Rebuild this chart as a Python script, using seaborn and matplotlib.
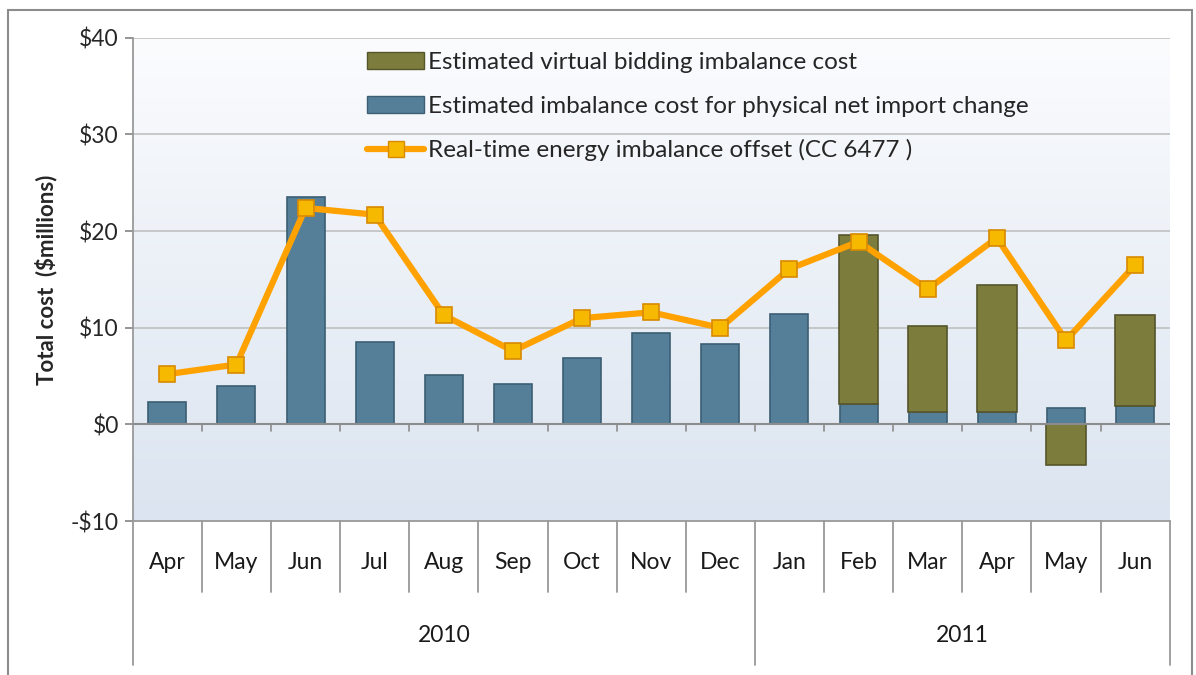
import matplotlib
matplotlib.use("Agg")
import matplotlib.pyplot as plt
from matplotlib.colors import LinearSegmentedColormap
from matplotlib.lines import Line2D
from matplotlib.patches import Patch, Rectangle
import matplotlib.transforms as mtransforms
import numpy as np
import pandas as pd
import seaborn as sns


MONTHS = ["Apr", "May", "Jun", "Jul", "Aug", "Sep", "Oct", "Nov", "Dec",
          "Jan", "Feb", "Mar", "Apr", "May", "Jun"]
YEARS = ["2010"] * 9 + ["2011"] * 6
PHYSICAL = [2.3, 4.0, 23.5, 8.5, 5.1, 4.2, 6.9, 9.5, 8.3,
            11.4, 2.1, 1.3, 1.3, 1.7, 1.9]
VIRTUAL = [0, 0, 0, 0, 0, 0, 0, 0, 0,
           0, 17.5, 8.9, 13.1, -4.2, 9.4]
OFFSET = [5.2, 6.2, 22.4, 21.7, 11.3, 7.6, 11.0, 11.6, 10.0,
          16.1, 18.9, 14.0, 19.3, 8.7, 16.5]

LBL_VIRTUAL = "Estimated virtual bidding imbalance cost"
LBL_PHYSICAL = "Estimated imbalance cost for physical net import change"
LBL_OFFSET = "Real-time energy imbalance offset (CC 6477 )"

BLUE = "#557f98"
BLUE_EDGE = "#3b5f73"
OLIVE = "#7c7c3c"
OLIVE_EDGE = "#55552a"
ORANGE = "#ffa200"
FS = 16.5

df = pd.DataFrame({
    "period": [f"{m} {y}" for m, y in zip(MONTHS, YEARS)],
    "physical": PHYSICAL,
    "virtual": VIRTUAL,
    "offset": OFFSET,
})

sns.set_theme(style="white")
plt.rcParams["font.family"] = ["Lato", "DejaVu Sans"]

fig = plt.figure(figsize=(11.96, 6.75), dpi=100)
ax = fig.add_axes([0.111, 0.228, 0.867, 0.716])

# gradient plot background
grad = LinearSegmentedColormap.from_list("bg", ["#fbfcfe", "#dbe4f0"])
ax.imshow(np.linspace(0, 1, 256)[:, None], extent=(-0.5, 14.5, -10, 40),
          aspect="auto", cmap=grad, zorder=0)

for yv in [10, 20, 30, 40]:
    ax.axhline(yv, color="#c0c0c0", lw=1.2, zorder=1)

x = np.arange(len(df))
sns.barplot(data=df, x="period", y="physical", order=df["period"], ax=ax,
            color=BLUE, saturation=1, width=0.55, edgecolor=BLUE_EDGE,
            linewidth=1.2, zorder=3)

virt = df["virtual"].to_numpy()
base = np.where(virt > 0, df["physical"].to_numpy(), 0.0)
mask = virt != 0
ax.bar(x[mask], virt[mask], bottom=base[mask], width=0.57, color=OLIVE,
       edgecolor=OLIVE_EDGE, linewidth=1.2, zorder=3)

sns.lineplot(x=x, y=df["offset"], ax=ax, color=ORANGE, lw=4.5, marker="s",
             markersize=11.5, markerfacecolor="#f7b800", markeredgecolor="#d88a00",
             markeredgewidth=1.2, zorder=5)

ax.set_xlim(-0.5, 14.5)
ax.set_ylim(-10, 40)
ax.set_yticks([-10, 0, 10, 20, 30, 40])
ax.set_yticklabels([r"-\$10", r"\$0", r"\$10", r"\$20", r"\$30", r"\$40"],
                   fontsize=FS)
ax.tick_params(axis="y", length=6, color="#888888", left=True, pad=4)
ax.set_xticks([])
ax.set_xlabel("")
ax.set_ylabel("Total cost  ($millions)", fontsize=16, fontweight="bold",
              labelpad=10)
for side in ["top", "right", "bottom"]:
    ax.spines[side].set_visible(False)
ax.spines["left"].set_color("#999999")
ax.spines["left"].set_linewidth(1.3)

# zero axis with boundary ticks
ax.axhline(0, color="#8c8c8c", lw=1.5, zorder=4)
for b in np.arange(0.5, 14.5, 1):
    ax.plot([b, b], [0, -0.7], color="#8c8c8c", lw=1.2, zorder=4)

# two-level category axis below the plot
trans = mtransforms.blended_transform_factory(ax.transData, ax.transAxes)
ax.plot([-0.5, 14.5], [0, 0], transform=trans, color="#999999", lw=1.3,
        clip_on=False)
for i, m in enumerate(MONTHS):
    ax.text(i, -0.085, m, transform=trans, ha="center", va="center",
            fontsize=FS, color="#1a1a1a")
for b in np.arange(0.5, 14.5, 1):
    bottom = -0.298 if b == 8.5 else -0.147
    ax.plot([b, b], [0, bottom], transform=trans, color="#999999", lw=1.3,
            clip_on=False)
for b in [-0.5, 14.5]:
    ax.plot([b, b], [0, -0.298], transform=trans, color="#999999", lw=1.3,
            clip_on=False)
ax.text(4, -0.236, "2010", transform=trans, ha="center", va="center",
        fontsize=FS, color="#1a1a1a")
ax.text(11.5, -0.236, "2011", transform=trans, ha="center", va="center",
        fontsize=FS, color="#1a1a1a")

handles = [
    Patch(facecolor=OLIVE, edgecolor=OLIVE_EDGE, label=LBL_VIRTUAL),
    Patch(facecolor=BLUE, edgecolor=BLUE_EDGE, label=LBL_PHYSICAL),
    Line2D([0], [0], color=ORANGE, lw=4.5, marker="s", markersize=11.5,
           markerfacecolor="#f7b800", markeredgecolor="#d88a00",
           label=LBL_OFFSET),
]
ax.legend(handles=handles, loc="upper left", bbox_to_anchor=(0.212, 1.0),
          frameon=False, fontsize=17.5, handlelength=2.35, handleheight=0.7,
          labelspacing=0.92, handletextpad=0.15, borderaxespad=0.2)

# outer chart frame
fig.patches.append(Rectangle((8 / 1196, -0.05), 1184 / 1196, 1.0 - 10 / 675 + 0.05,
                             transform=fig.transFigure, fill=False,
                             edgecolor="#8c8c8c", lw=1.5))

fig.savefig("out.png", dpi=100)
